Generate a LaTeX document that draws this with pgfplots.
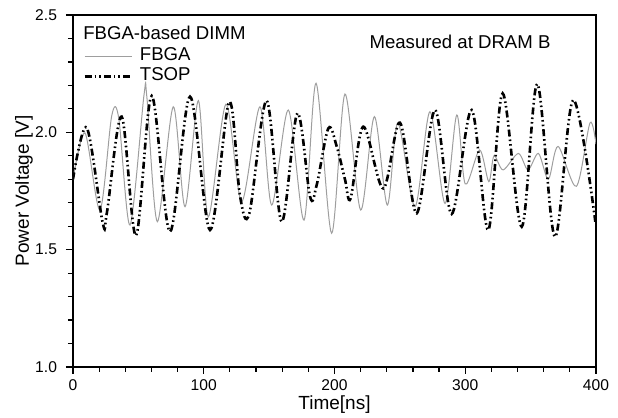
\documentclass[border=0pt]{standalone}
\usepackage{pgfplots}
\pgfplotsset{compat=1.18}
\usepackage{fontspec}
\setmainfont{Liberation Sans}
\begin{document}
\begin{tikzpicture}
\useasboundingbox (-36.5pt,-25.5pt) rectangle (272.5pt,183.5pt);
\begin{axis}[
  at={(0pt,0pt)}, anchor=south west,
  scale only axis, width=261.5pt, height=176pt,
  xmin=0, xmax=400, ymin=1.0, ymax=2.5,
  xtick={0,100,200,300,400}, ytick={1.0,1.5,2.0,2.5},
  minor x tick num=4, minor y tick num=4,
  xtick pos=bottom, ytick pos=left,
  tick align=outside,
  major tick length=3.5pt, minor tick length=2.5pt,
  every tick/.style={black, line width=0.6pt},
  axis line style={line width=0.9pt},
  /pgf/number format/assume math mode=true,
  yticklabel style={/pgf/number format/fixed, /pgf/number format/fixed zerofill, /pgf/number format/precision=1, xshift=-1pt},
  ticklabel style={font=\fontsize{7.8}{9}\selectfont},
  xticklabel style={yshift=0.5pt},
  xlabel={Time[ns]}, ylabel={Power Voltage [V]},
  label style={font=\fontsize{9.5}{11}\selectfont},
  xlabel style={at={(axis description cs:0.5,-0.108)}, anchor=center},
  ylabel style={at={(axis description cs:-0.0937,0.5)}, anchor=center},
  legend style={draw=none, fill=none, at={(rel axis cs:0.019,0.912)}, anchor=north west,
    font=\fontsize{9.3}{10}\selectfont, inner sep=0pt, row sep=0pt,
    nodes={inner sep=0pt, text height=7pt, text depth=3pt},
    /tikz/every odd column/.append style={column sep=3.5pt}},
  legend cell align=left,
  legend image code/.code={\draw[#1] (0pt,0pt) -- (23.5pt,0pt);},
]
\addplot[smooth, tension=0.5, color=black!38, line width=0.5pt] coordinates {
(0,1.80) (9.2,1.997) (20.6,1.669) (29.6,2.07) (35,2.06) (43.6,1.605)
(54.3,2.159) (56.5,2.15) (64.5,1.619) (76.7,2.109) (85.7,1.683) (95.9,2.135)
(103.5,1.64) (117,2.12) (129,1.705) (143,2.109) (152,1.69) (164.7,2.095)
(176.7,1.626) (185.9,2.209) (197.8,1.57) (208,2.163) (220,1.669) (230.5,2.067)
(240.4,1.69) (248.5,2.04) (261.6,1.683) (273,2.088) (284.5,1.697) (293.5,2.074)
(300,1.78) (311,1.925) (318,1.79) (322,1.90) (329,1.84) (340.6,1.91)
(348,1.84) (356,1.91) (363.6,1.80) (371,1.94) (385,1.77) (395.4,2.04) (400,1.95)
};
\addlegendentry{FBGA}
\addplot[smooth, tension=0.55, color=black, line width=1.3pt,
  dash pattern=on 3.5pt off 1.5pt on 0.8pt off 1.5pt on 0.8pt off 1.5pt] coordinates {
(0,1.80) (10.5,2.02) (22.7,1.615) (26,1.66) (37.2,2.067) (48.2,1.56)
(60.2,2.155) (74.2,1.577) (89.5,2.152) (104.8,1.584) (119.5,2.13) (127.7,1.73)
(134.9,1.655) (148.1,2.135) (159.6,1.619) (171.6,2.081) (181.3,1.726) (186.4,1.776)
(195.3,2.017) (201.7,1.94) (208,1.80) (212.4,1.719) (222,2.024) (237.3,1.761)
(250.1,2.041) (262.9,1.655) (276.9,2.095) (289.6,1.652) (304.9,2.095) (317.6,1.584)
(328.6,2.166) (343.2,1.598) (355.1,2.206) (368.6,1.555) (382.6,2.138) (399.5,1.619)
};
\addlegendentry{TSOP}
\node[anchor=west, font=\fontsize{9.3}{10}\selectfont, inner sep=0pt] at (rel axis cs:0.019,0.949) {FBGA-based DIMM};
\node[anchor=center, font=\fontsize{9.3}{10}\selectfont, inner sep=0pt] at (rel axis cs:0.740,0.923) {Measured at DRAM B};
\end{axis}
\end{tikzpicture}
\end{document}
